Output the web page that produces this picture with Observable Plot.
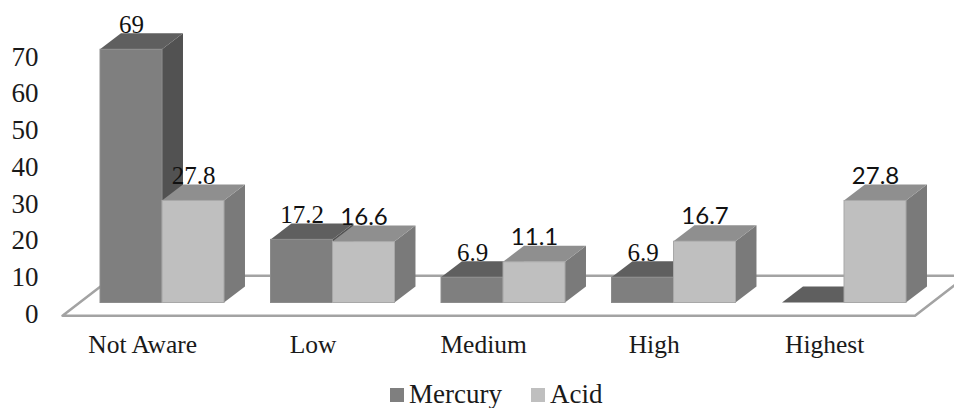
<!DOCTYPE html>
<html>
<head>
<meta charset="utf-8">
<script src="https://cdn.jsdelivr.net/npm/d3@7"></script>
<script src="https://cdn.jsdelivr.net/npm/@observablehq/plot@0.6"></script>
<style>
  html, body { margin: 0; padding: 0; background: #fff; }
  #chart { position: relative; width: 954px; height: 408px; overflow: hidden; }
  #chart > svg { display: block; }
  #legend { position: absolute; left: 390px; top: 378px; margin: 0 !important; min-height: 0 !important; }
  #legend, #legend * {
    font-family: "Liberation Serif", serif !important;
    font-size: 27px !important;
    color: #1a1a1a;
  }
  #legend > * { margin-right: 29px !important; line-height: 33px; }
  #legend svg { margin-right: 5px !important; }
</style>
</head>
<body>
<div id="chart"></div>
<script>
// Awareness level survey: share of respondents per level
const categories = ["Not Aware", "Low", "Medium", "High", "Highest"];
const seriesNames = ["Mercury", "Acid"];
const mercury = [69, 17.2, 6.9, 6.9, 0];
const acid = [27.8, 16.6, 11.1, 16.7, 27.8];
const yTicks = [0, 10, 20, 30, 40, 50, 60, 70];

// One x unit is one category slot on the front edge of the floor
const barStart = 0.223;
const barWidth = 0.3636;
const depthX = 0.123;
const depthY = 4.36;

// Floor of the 3D box, in data units
const floorFront = -3.45;
const floorBack = 7.45;
const floorSlant = 0.305;

const barsFor = (values, name, slot) => values.map((value, i) => ({
  category: categories[i],
  series: name,
  value,
  x1: i + barStart + slot * barWidth,
  x2: i + barStart + (slot + 1) * barWidth
}));

const mercuryBars = barsFor(mercury, seriesNames[0], 0);
const acidBars = barsFor(acid, seriesNames[1], 1);

// Each receding face is an area swept from the front edge to the back edge
const topFace = (bars) => bars.flatMap((b) => [
  {id: b.category, x1: b.x1, x2: b.x2, y1: b.value, y2: b.value},
  {id: b.category, x1: b.x1 + depthX, x2: b.x2 + depthX, y1: b.value + depthY, y2: b.value + depthY}
]);
const sideFace = (bars) => bars.filter((b) => b.value > 0).flatMap((b) => [
  {id: b.category, x1: b.x2, x2: b.x2, y1: 0, y2: b.value},
  {id: b.category, x1: b.x2 + depthX, x2: b.x2 + depthX, y1: depthY, y2: b.value + depthY}
]);

const face = (rows, fill) => Plot.area(rows, {
  x1: "x1", x2: "x2", y1: "y1", y2: "y2", z: "id", fill, curve: "linear"
});

const box = (bars, sideFill, topFill, edge) => [
  face(sideFace(bars), sideFill),
  face(topFace(bars), topFill),
  Plot.rect(bars.filter((b) => b.value > 0), {
    x1: "x1", x2: "x2", y1: () => 0, y2: "value", fill: "series", stroke: edge, strokeWidth: 1
  })
];

const floorOutline = [
  {x: floorSlant, y: floorBack},
  {x: 0, y: floorFront},
  {x: 5, y: floorFront},
  {x: 5 + floorSlant, y: floorBack}
];
const floorBackLine = [
  {x: floorSlant, y: floorBack},
  {x: 5 + floorSlant, y: floorBack}
];

const sansLabel = (d) => d.series === "Acid" && d.category !== "Not Aware";
const allBars = [...mercuryBars, ...acidBars].filter((b) => b.value > 0);
const barLabel = (bars, extra) => Plot.text(bars, {
  x: (d) => (d.x1 + d.x2) / 2,
  y: (d) => d.value + depthY,
  text: (d) => String(d.value),
  dy: -9,
  fill: "#111",
  stroke: "none",
  ...extra
});

const chart = Plot.plot({
  width: 954,
  height: 408,
  marginLeft: 0,
  marginRight: 0,
  marginTop: 0,
  marginBottom: 0,
  style: {fontFamily: "Liberation Serif, serif", fontSize: "24px", background: "#fff", color: "#1a1a1a"},
  x: {domain: [0, 5], range: [62, 914.5]},
  y: {domain: [0, 80], range: [302.5, 8.9]},
  color: {domain: seriesNames, range: ["#7f7f7f", "#bfbfbf"]},
  marks: [
    Plot.line(floorBackLine, {x: "x", y: "y", stroke: "#a3a3a3", strokeWidth: 2.5}),
    Plot.line(floorOutline, {x: "x", y: "y", stroke: "#a3a3a3", strokeWidth: 2.5, fill: "none"}),
    ...box(mercuryBars, "#525252", "#5f5f5f", "#8c8c8c"),
    ...box(acidBars, "#7a7a7a", "#8f8f8f", "#a8a8a8"),
    Plot.axisY(yTicks, {
      anchor: "left", x: 0, tickSize: 0, tickPadding: 0, dx: -24, dy: 11, label: null,
      textAnchor: "end", fontSize: 27, fill: "#1a1a1a"
    }),
    Plot.axisX([0.47, 1.47, 2.47, 3.47, 4.47], {
      anchor: "bottom", y: -8.7, tickSize: 0, tickPadding: 0, label: null,
      tickFormat: (d) => categories[Math.floor(d)], fontSize: 25.5, fill: "#1a1a1a"
    }),
    barLabel(allBars.filter((d) => !sansLabel(d)), {fontSize: 25}),
    barLabel(allBars.filter(sansLabel), {fontSize: 24, fontFamily: "Lato, sans-serif"})
  ]
});

const host = document.getElementById("chart");
host.appendChild(chart);

const legend = chart.legend("color", {swatchSize: 14, swatchWidth: 14, swatchHeight: 14});
legend.id = "legend";
host.appendChild(legend);
</script>
</body>
</html>
